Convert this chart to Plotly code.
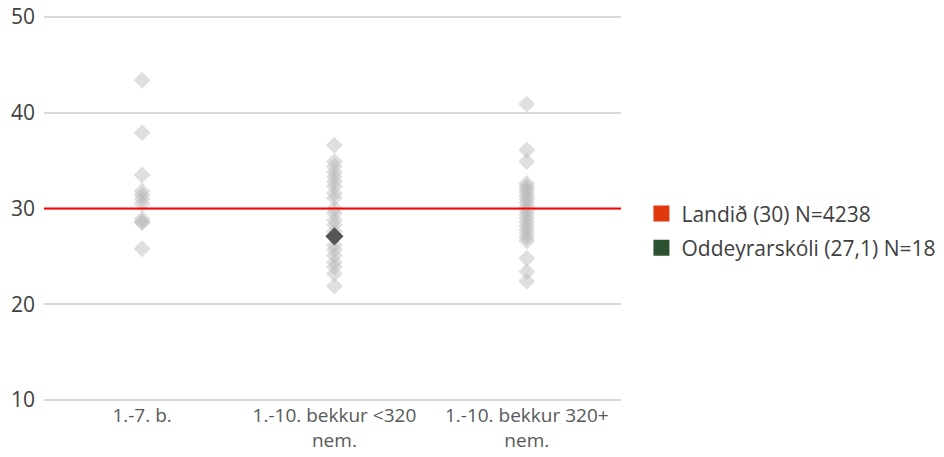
import plotly.graph_objects as go

categories = ["1.-7. b.", "1.-10. bekkur <320<br>nem.", "1.-10. bekkur 320+<br>nem."]

group1 = [43.4, 37.9, 33.5, 31.8, 31.4, 31.0, 30.5, 28.9, 28.6, 28.5, 25.8]
group2 = [36.6, 34.9, 34.4, 33.8, 33.3, 32.8, 32.3, 31.6, 31.1, 30.0, 29.5, 28.8,
          28.3, 27.6, 26.2, 25.7, 25.1, 24.4, 23.9, 23.2, 21.9]
group3 = [40.9, 36.1, 34.9, 32.6, 32.3, 32.0, 31.7, 31.3, 31.0, 30.6, 30.2, 29.8,
          29.4, 29.0, 28.6, 28.2, 27.8, 27.4, 27.0, 26.6, 24.8, 23.4, 22.4]

school_category = categories[1]
school_value = 27.1
national_value = 30

legend_national = "Landið (30) N=4238"
legend_school = "Oddeyrarskóli (27,1) N=18"

FONT = "'Open Sans', 'Noto Sans', sans-serif"

fig = go.Figure()

for cat, vals in zip(categories, [group1, group2, group3]):
    fig.add_trace(go.Scatter(
        x=[cat] * len(vals), y=vals, mode="markers",
        marker=dict(symbol="diamond", size=13, color="rgba(185,185,185,0.45)", line=dict(width=0)),
        showlegend=False, hoverinfo="y"))

fig.add_trace(go.Scatter(
    x=[school_category], y=[school_value], mode="markers",
    marker=dict(symbol="diamond", size=14, color="#555555", line=dict(width=0)),
    showlegend=False))

fig.add_shape(type="line", xref="paper", x0=0, x1=1, yref="y", y0=national_value, y1=national_value,
              line=dict(color="#ff0000", width=2), layer="above")

fig.add_trace(go.Scatter(x=[None], y=[None], mode="markers", name=legend_national,
                         legendgroup="a",
                         marker=dict(symbol="square", size=16, color="#e0390f")))
fig.add_trace(go.Scatter(x=[None], y=[None], mode="markers", name=legend_school,
                         legendgroup="b",
                         marker=dict(symbol="square", size=16, color="#2d5230")))

fig.update_layout(
    width=944, height=457,
    margin=dict(l=44, r=323, t=15, b=55, autoexpand=False),
    paper_bgcolor="white", plot_bgcolor="white",
    font=dict(family=FONT, color="#404040"),
    showlegend=True,
    legend=dict(x=0.6795, xanchor="left", y=0.495, yanchor="middle",
                xref="container", yref="container",
                font=dict(size=21, color="#404040"), traceorder="grouped",
                tracegroupgap=4, bgcolor="rgba(0,0,0,0)"),
    xaxis=dict(type="category", categoryorder="array", categoryarray=categories,
               tickfont=dict(size=19, color="#595959"), showgrid=False, zeroline=False,
               showline=False, ticks="", range=[-0.51, 2.49], automargin=False,
               ticklabelstandoff=0),
    yaxis=dict(range=[9.8, 50.2], tickvals=[10, 20, 30, 40, 50],
               tickfont=dict(size=21, color="#404040"), ticklabeloverflow="allow",
               showgrid=True, gridcolor="#d9d9d9", gridwidth=2, zeroline=False,
               showline=False, ticks="", ticklabelstandoff=8, automargin=False),
)

fig.write_html("out.html", config={"displayModeBar": False},
               post_script="document.body.style.margin='0';document.body.style.overflow='hidden';")
